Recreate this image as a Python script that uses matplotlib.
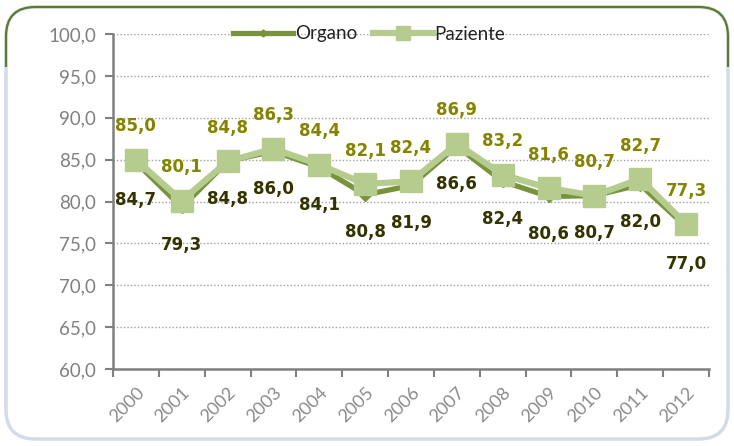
import matplotlib
matplotlib.use("Agg")
import matplotlib.pyplot as plt
from matplotlib.patches import FancyBboxPatch, Rectangle
import numpy as np

years = ["2000", "2001", "2002", "2003", "2004", "2005", "2006",
         "2007", "2008", "2009", "2010", "2011", "2012"]
organo = [84.7, 79.3, 84.8, 86.0, 84.1, 80.8, 81.9, 86.6, 82.4, 80.6, 80.7, 82.0, 77.0]
paziente = [85.0, 80.1, 84.8, 86.3, 84.4, 82.1, 82.4, 86.9, 83.2, 81.6, 80.7, 82.7, 77.3]
yticks = [60, 65, 70, 75, 80, 85, 90, 95, 100]

W, H = 734, 446
fig = plt.figure(figsize=(W / 100, H / 100), dpi=100)
fig.patch.set_facecolor("white")

# rounded frame
shadow = FancyBboxPatch((6 / W, 7 / H), 722 / W, 432 / H,
                        boxstyle="round,pad=0,rounding_size=0.04",
                        transform=fig.transFigure, facecolor="none",
                        edgecolor="#d3dbe8", linewidth=2.5, mutation_aspect=W / H,
                        zorder=-10)
fig.add_artist(shadow)
frame = FancyBboxPatch((6 / W, 7 / H), 722 / W, 432 / H,
                       boxstyle="round,pad=0,rounding_size=0.04",
                       transform=fig.transFigure, facecolor="none",
                       edgecolor="#5e7a2e", linewidth=1.6, mutation_aspect=W / H,
                       zorder=-9)
fig.add_artist(frame)
clip = Rectangle((0, 0.85), 1, 0.2, transform=fig.transFigure)
frame.set_clip_path(clip)

ax = fig.add_axes([113 / W, 1 - 369 / H, 596 / W, 335 / H])
ax.set_facecolor("none")
x = np.arange(len(years))

c_org = "#77933c"
c_paz = "#b5cc8e"

ax.plot(x, organo, color=c_org, lw=3.8, marker="D", ms=6, mec=c_org, mfc=c_org,
        label="Organo", zorder=3)
ax.plot(x, paziente, color=c_paz, lw=4.5, marker="s", ms=16, mec=c_paz, mfc=c_paz,
        label="Paziente", zorder=4)

fmt = lambda v: f"{v:.1f}".replace(".", ",")
for xi, v in zip(x, paziente):
    ax.annotate(fmt(v), (xi, v), xytext=(0, 24), textcoords="offset points",
                ha="center", va="center", fontsize=12, fontweight="bold",
                color="#848400", family="DejaVu Sans", zorder=5)
for xi, v in zip(x, organo):
    ax.annotate(fmt(v), (xi, v), xytext=(0, -27), textcoords="offset points",
                ha="center", va="center", fontsize=12, fontweight="bold",
                color="#333300", family="DejaVu Sans", zorder=5)

ax.set_xlim(-0.5, len(years) - 0.5)
ax.set_ylim(60, 100)
ax.set_yticks(yticks)
ax.set_yticklabels([fmt(v) for v in yticks], fontsize=13.5, color="#808080", family="Lato")
ax.yaxis.grid(True, linestyle=(0, (1, 1.5)), color="#a0a0a0", linewidth=1)
ax.set_axisbelow(True)

ax.set_xticks(x)
ax.set_xticklabels(years, rotation=45, ha="right", rotation_mode="anchor",
                   fontsize=13, color="#8a8a8a", family="Lato")
ax.tick_params(axis="x", which="major", length=0, pad=11)
ax.set_xticks(np.arange(-0.5, len(years)), minor=True)
ax.tick_params(axis="x", which="minor", length=6, width=1.5, color="#808080", direction="out")
ax.tick_params(axis="y", length=6, width=1.5, color="#808080", direction="out", pad=6)

for s in ["top", "right"]:
    ax.spines[s].set_visible(False)
for s in ["left", "bottom"]:
    ax.spines[s].set_color("#808080")
    ax.spines[s].set_linewidth(1.8)

leg = ax.legend(loc="center", bbox_to_anchor=(0.43, 1.0), ncol=2, frameon=False,
                handlelength=3.2, columnspacing=0.8, handletextpad=0.1,
                prop={"family": "Lato", "size": 13.5}, markerscale=0.6)
for t in leg.get_texts():
    t.set_color("#222222")

fig.savefig("out.png", dpi=100)
